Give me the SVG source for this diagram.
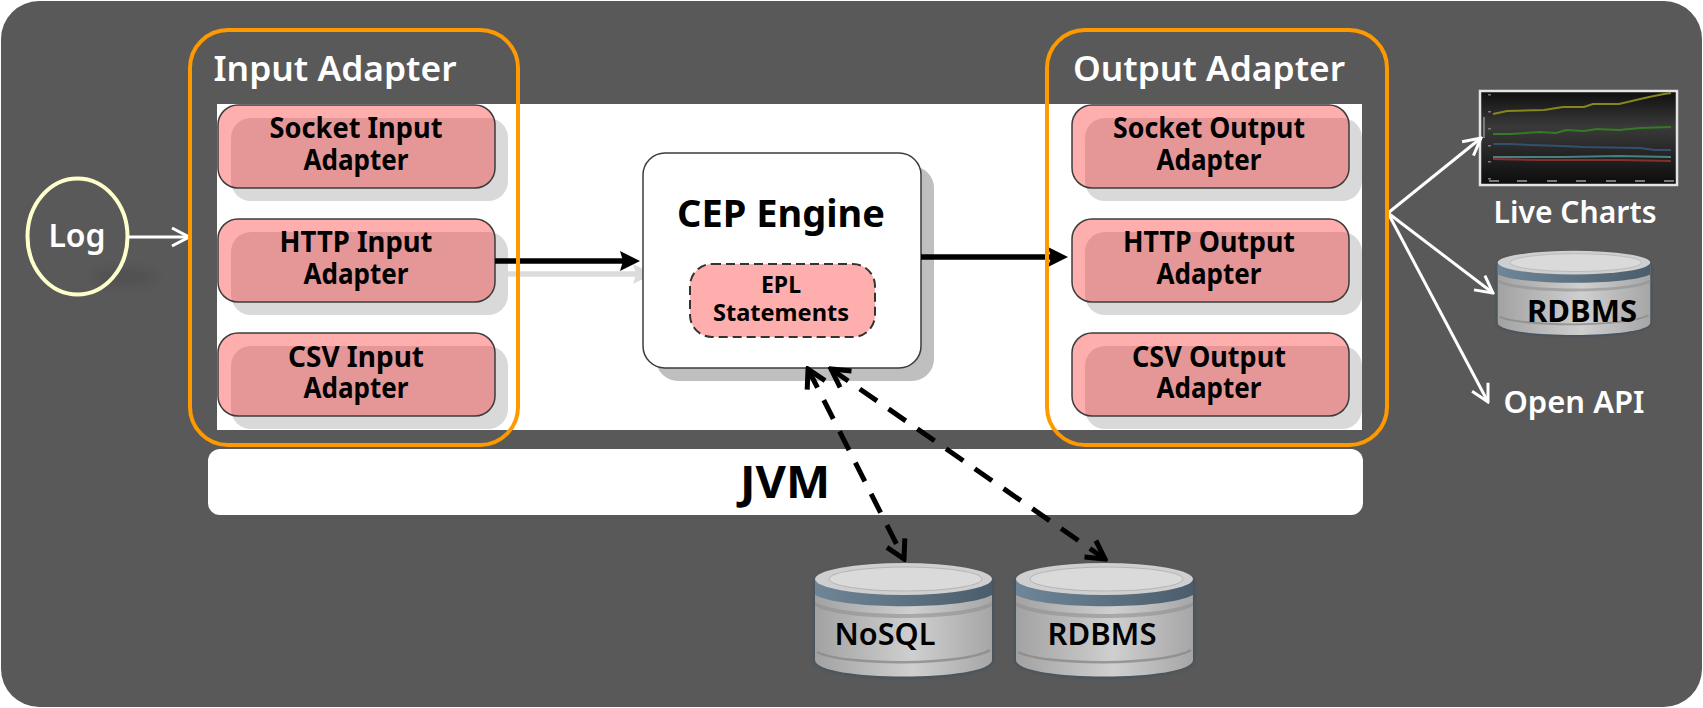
<svg xmlns="http://www.w3.org/2000/svg" width="1703" height="708" viewBox="0 0 1703 708">
<style>
text{font-family:"Noto Sans","Open Sans","Liberation Sans",sans-serif;text-anchor:middle}
.b{font-weight:700;fill:#000}
.a{font-size:28px}
.w{font-weight:600;fill:#fff}
.conn{fill:none;stroke:#000;stroke-width:5.5}
.wh{fill:none;stroke:#fff;stroke-width:3}
.dash{fill:none;stroke:#000;stroke-width:5;stroke-dasharray:21 14}
.tick{fill:#7a7a7a}
</style>
<defs>
<clipPath id="boxclip"><rect width="277" height="83" rx="20"/></clipPath>
<g id="adapter">
<rect x="13" y="13" width="277" height="83" rx="20" fill="#d9d9d9"/>
<rect width="277" height="83" rx="20" fill="#ffaeae"/>
<rect x="13" y="13" width="277" height="83" rx="20" fill="#e59797" clip-path="url(#boxclip)"/>
<rect width="277" height="83" rx="20" fill="none" stroke="#3c3c3c" stroke-width="1.5"/>
</g>
<filter id="soft" x="-10%" y="-10%" width="120%" height="120%"><feGaussianBlur stdDeviation="1.5"/></filter>
<filter id="faint" x="-50%" y="-100%" width="200%" height="300%"><feGaussianBlur stdDeviation="6"/></filter>
<linearGradient id="body"><stop offset="0" stop-color="#a2a2a2"/><stop offset=".55" stop-color="#cfcfcf"/><stop offset="1" stop-color="#a6a6a6"/></linearGradient>
<linearGradient id="band"><stop offset="0" stop-color="#6f8698"/><stop offset="1" stop-color="#4b5d6c"/></linearGradient>
<linearGradient id="chartbg" x2="0" y2="1"><stop offset="0" stop-color="#0e0e0e"/><stop offset=".38" stop-color="#3a3a3a"/><stop offset="1" stop-color="#0c0c0c"/></linearGradient>
<marker id="black" viewBox="0 0 20 20" refX="5" refY="10" markerUnits="userSpaceOnUse" markerWidth="20" markerHeight="20" orient="auto"><path d="M0 0L20 10L0 20L3 10z" fill="#000"/></marker>
<marker id="shade" viewBox="0 0 20 20" refX="5" refY="10" markerUnits="userSpaceOnUse" markerWidth="20" markerHeight="20" orient="auto"><path d="M0 0L20 10L0 20L3 10z" fill="#dcdcdc"/></marker>
<marker id="open" viewBox="0 0 22 22" refX="20" refY="11" markerUnits="userSpaceOnUse" markerWidth="22" markerHeight="22" orient="auto"><path d="M3 2L20 11L3 20" fill="none" stroke="#fff" stroke-width="3"/></marker>
<marker id="dhead" viewBox="0 0 26 26" refX="23" refY="13" markerUnits="userSpaceOnUse" markerWidth="26" markerHeight="26" orient="auto-start-reverse"><path d="M5 3L23 13L5 23" fill="none" stroke="#000" stroke-width="5"/></marker>
<symbol id="db" viewBox="0 0 180 116" preserveAspectRatio="none" overflow="visible">
<path d="M0 20C0 -4 180 -4 180 20V98C180 123 0 123 0 98z" fill="#46525c" filter="url(#soft)"/>
<path d="M2 20H178V98C178 120 2 120 2 98z" fill="url(#body)"/>
<path d="M4 90C30 104 150 104 176 88" fill="none" stroke="#8a8a8a" stroke-width="2.5" opacity=".8"/>
<path d="M2 40C30 56 150 56 178 40V44C150 60 30 60 2 44z" fill="#8f8f8f" opacity=".6"/>
<path d="M2 17C30 34 150 34 178 17V33C150 48 30 48 2 33z" fill="url(#band)"/>
<ellipse cx="90" cy="17" rx="88" ry="16" fill="#cfcfcf"/>
<ellipse cx="92" cy="17" rx="76" ry="12" fill="#dadada" stroke="#b5b5b5" stroke-width="1"/>
</symbol>
</defs>

<rect id="page" x="1" y="1" width="1701" height="706" rx="38" fill="#595959"/>
<rect id="panel" x="217" y="104" width="1145" height="326" fill="#fff"/>
<path id="arrow-shadow" d="M495 274H638" class="conn" style="stroke:#dcdcdc" marker-end="url(#shade)"/>

<g id="jvm">
<rect x="208" y="449" width="1155" height="66" rx="12" fill="#fff"/>
<text x="785" y="498" class="b" font-size="44" textLength="90" lengthAdjust="spacingAndGlyphs">JVM</text>
</g>

<g id="log">
<ellipse cx="125" cy="277" rx="32" ry="7" fill="#000" opacity=".1" filter="url(#faint)"/>
<ellipse cx="77.500" cy="236.500" rx="50" ry="58" fill="none" stroke="#ffffcc" stroke-width="4"/>
<text x="77" y="247" class="w" font-size="32">Log</text>
</g>

<g id="cep-engine">
<rect x="656" y="166" width="278" height="215" rx="22" fill="#bfbfbf"/>
<rect x="643" y="153" width="278" height="215" rx="22" fill="#fff" stroke="#3c3c3c" stroke-width="1.500"/>
<text x="781" y="227" class="b" font-size="38" textLength="208" lengthAdjust="spacingAndGlyphs">CEP Engine</text>
</g>
<g id="epl-statements">
<rect x="690" y="264" width="185" height="73" rx="22" fill="#ffaeae" stroke="#333" stroke-width="2" stroke-dasharray="9 5"/>
<text x="781" y="293" class="b" font-size="23">EPL</text>
<text x="781" y="321" class="b" font-size="23" textLength="136" lengthAdjust="spacingAndGlyphs">Statements</text>
</g>

<g id="socket-input"><use href="#adapter" x="218" y="105"/><text x="356" y="138" class="b a" textLength="173" lengthAdjust="spacingAndGlyphs">Socket Input</text><text x="356" y="170" class="b a" textLength="105" lengthAdjust="spacingAndGlyphs">Adapter</text></g>
<g id="http-input"><use href="#adapter" x="218" y="219"/><text x="356" y="252" class="b a" textLength="153" lengthAdjust="spacingAndGlyphs">HTTP Input</text><text x="356" y="284" class="b a" textLength="105" lengthAdjust="spacingAndGlyphs">Adapter</text></g>
<g id="csv-input"><use href="#adapter" x="218" y="333"/><text x="356" y="367" class="b a" textLength="136" lengthAdjust="spacingAndGlyphs">CSV Input</text><text x="356" y="398" class="b a" textLength="105" lengthAdjust="spacingAndGlyphs">Adapter</text></g>

<g id="socket-output"><use href="#adapter" x="1072" y="105"/><text x="1209" y="138" class="b a" textLength="192" lengthAdjust="spacingAndGlyphs">Socket Output</text><text x="1209" y="170" class="b a" textLength="105" lengthAdjust="spacingAndGlyphs">Adapter</text></g>
<g id="http-output"><use href="#adapter" x="1072" y="219"/><text x="1209" y="252" class="b a" textLength="172" lengthAdjust="spacingAndGlyphs">HTTP Output</text><text x="1209" y="284" class="b a" textLength="105" lengthAdjust="spacingAndGlyphs">Adapter</text></g>
<g id="csv-output"><use href="#adapter" x="1072" y="333"/><text x="1209" y="367" class="b a" textLength="154" lengthAdjust="spacingAndGlyphs">CSV Output</text><text x="1209" y="398" class="b a" textLength="105" lengthAdjust="spacingAndGlyphs">Adapter</text></g>

<g id="live-charts">
<rect x="1480" y="91" width="197" height="94" fill="url(#chartbg)" stroke="#e4e4e4" stroke-width="2.500"/>
<g class="tick">
<rect x="1488" y="94" width="3" height="1.500"/><rect x="1488" y="111" width="3" height="1.500"/><rect x="1488" y="128" width="3" height="1.500"/><rect x="1488" y="145" width="3" height="1.500"/><rect x="1488" y="161" width="3" height="1.500"/><rect x="1488" y="178" width="3" height="1.500"/>
<rect x="1483" y="117" width="2" height="21"/>
<rect x="1489" y="180" width="10" height="2"/><rect x="1517" y="180" width="10" height="2"/><rect x="1547" y="180" width="10" height="2"/><rect x="1576" y="180" width="10" height="2"/><rect x="1606" y="180" width="10" height="2"/><rect x="1635" y="180" width="10" height="2"/><rect x="1664" y="180" width="10" height="2"/>
</g>
<g fill="none" stroke-width="2">
<polyline stroke="#86861a" points="1493,114 1507,111 1544,110 1563,107 1584,107 1593,104 1619,104 1649,97 1664,94 1671,93"/>
<polyline stroke="#357a24" points="1493,134 1510,134 1540,132 1556,133 1566,130 1584,131 1597,129 1619,130 1640,128 1671,127"/>
<polyline stroke="#34506f" points="1493,144 1510,144 1530,145 1563,146 1584,147 1640,148 1655,150 1671,150"/>
<polyline stroke="#4a8080" points="1493,157 1563,157 1619,156 1671,157"/>
<polyline stroke="#853030" points="1493,159 1540,160 1619,160 1671,161"/>
</g>
<text x="1575" y="223" class="w" font-size="31" textLength="163" lengthAdjust="spacingAndGlyphs">Live Charts</text>
</g>

<g id="rdbms-top">
<use href="#db" x="1496" y="250" width="156" height="86"/>
<text x="1582" y="322" class="b" font-size="31" textLength="110" lengthAdjust="spacingAndGlyphs">RDBMS</text>
</g>
<g id="open-api"><text x="1574" y="413" class="w" font-size="31" textLength="141" lengthAdjust="spacingAndGlyphs">Open API</text></g>

<g id="nosql">
<use href="#db" x="813" y="562" width="181" height="116"/>
<text x="885" y="645" class="b" font-size="30" style="font-weight:600" textLength="101" lengthAdjust="spacingAndGlyphs">NoSQL</text>
</g>
<g id="rdbms-bottom">
<use href="#db" x="1014" y="562" width="181" height="116"/>
<text x="1102" y="645" class="b" font-size="30" style="font-weight:600" textLength="109" lengthAdjust="spacingAndGlyphs">RDBMS</text>
</g>

<g id="connectors">
<path d="M128 237H189" class="wh" marker-end="url(#open)"/>
<path d="M495 261H625" class="conn" marker-end="url(#black)"/>
<path d="M921 257H1053" class="conn" marker-end="url(#black)"/>
<path d="M1388 213L1481 138" class="wh" marker-end="url(#open)"/>
<path d="M1388 213L1493 293" class="wh" marker-end="url(#open)"/>
<path d="M1388 213L1488 402" class="wh" marker-end="url(#open)"/>
<path d="M808 369L904 559" class="dash" marker-start="url(#dhead)" marker-end="url(#dhead)"/>
<path d="M831 369L1105 559" class="dash" marker-start="url(#dhead)" marker-end="url(#dhead)"/>
</g>

<g id="input-adapter">
<rect x="190" y="30" width="328" height="415" rx="38" fill="none" stroke="#ff9900" stroke-width="4"/>
<text x="335" y="81" class="w" font-size="35" textLength="243" lengthAdjust="spacingAndGlyphs">Input Adapter</text>
</g>
<g id="output-adapter">
<rect x="1047" y="30" width="340" height="415" rx="38" fill="none" stroke="#ff9900" stroke-width="4"/>
<text x="1209" y="81" class="w" font-size="35" textLength="272" lengthAdjust="spacingAndGlyphs">Output Adapter</text>
</g>
</svg>
